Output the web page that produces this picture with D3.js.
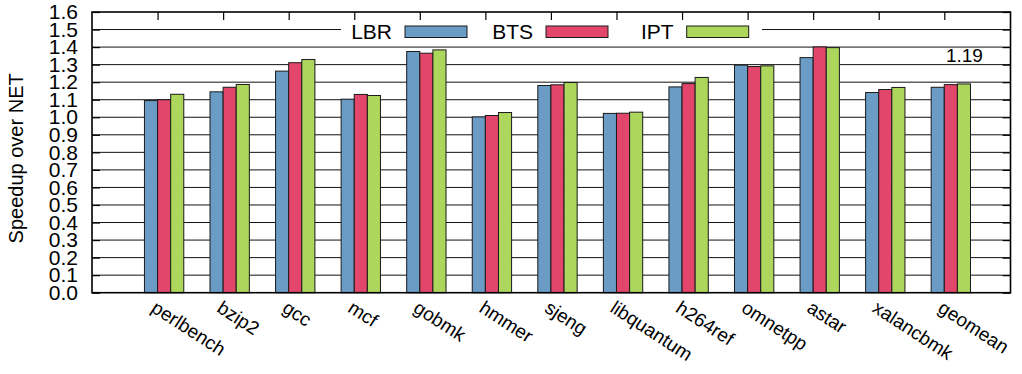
<!DOCTYPE html>
<html>
<head>
<meta charset="utf-8">
<script src="https://cdn.jsdelivr.net/npm/d3@7"></script>
<style>
  html, body { margin: 0; padding: 0; background: #fff; }
  svg { display: block; font-family: "Liberation Sans", Arial, Helvetica, sans-serif; }
</style>
</head>
<body>
<svg id="chart" width="1022" height="374"></svg>
<script>
// Benchmarks (SPEC CPU2006 integer) plus the geometric mean
const categories = ["perlbench", "bzip2", "gcc", "mcf", "gobmk", "hmmer", "sjeng",
                    "libquantum", "h264ref", "omnetpp", "astar", "xalancbmk", "geomean"];
const seriesNames = ["LBR", "BTS", "IPT"];
const lbr = [1.095, 1.145, 1.263, 1.103, 1.375, 1.002, 1.181, 1.022, 1.173, 1.297, 1.340, 1.141, 1.171];
const bts = [1.100, 1.171, 1.311, 1.130, 1.365, 1.010, 1.185, 1.023, 1.192, 1.289, 1.401, 1.158, 1.186];
const ipt = [1.131, 1.187, 1.329, 1.124, 1.384, 1.027, 1.198, 1.029, 1.227, 1.293, 1.397, 1.170, 1.190];
const yTicks = [0, 0.1, 0.2, 0.3, 0.4, 0.5, 0.6, 0.7, 0.8, 0.9, 1.0, 1.1, 1.2, 1.3, 1.4, 1.5, 1.6];
const colors = ["#6a9cc6", "#e2466a", "#add65c"];
const yLabel = "Speedup over NET";

const values = [lbr, bts, ipt];
const svg = d3.select("#chart");
const plotL = 92, plotR = 1010.5, plotT = 12, plotB = 292.7;

const x = d3.scaleLinear().domain([-1.1, 12.91]).range([plotL, plotR]);
const y = d3.scaleLinear().domain([0, 1.6]).range([plotB, plotT]);
const slot = x(1) - x(0);
const barW = slot / 5;                       // 3 bars + gap of 2 bar widths
const inner = d3.scaleBand().domain(seriesNames).range([-1.5 * barW, 1.5 * barW]).padding(0);
const tickPos = categories.map((c, i) => x.invert(x(i) - barW / 2));

// horizontal grid
svg.append("g")
  .selectAll("line")
  .data(yTicks.slice(1, -1))
  .join("line")
  .attr("x1", plotL).attr("x2", plotR)
  .attr("y1", d => y(d)).attr("y2", d => y(d))
  .attr("stroke", "#111").attr("stroke-width", 1);

// inward ticks on all four sides
const tickStyle = g => {
  g.select(".domain").remove();
  g.selectAll(".tick line").attr("stroke", "#000").attr("stroke-width", 1.2);
  g.selectAll(".tick text").attr("font-size", 21).attr("fill", "#000")
    .attr("font-family", "Liberation Sans, Arial, sans-serif");
};
svg.append("g").attr("transform", `translate(${plotL},0)`)
  .call(d3.axisLeft(y).tickValues(yTicks).tickFormat(d3.format(".1f")).tickSize(-8).tickPadding(14))
  .call(tickStyle);
svg.append("g").attr("transform", `translate(${plotR},0)`)
  .call(d3.axisRight(y).tickValues(yTicks).tickFormat("").tickSize(-8))
  .call(tickStyle);
svg.append("g").attr("transform", `translate(0,${plotT})`)
  .call(d3.axisTop(x).tickValues(tickPos).tickFormat("").tickSize(-8))
  .call(tickStyle);
svg.append("g").attr("transform", `translate(0,${plotB})`)
  .call(d3.axisBottom(x).tickValues(tickPos).tickFormat("").tickSize(-8))
  .call(tickStyle);

// bars
const groups = svg.append("g")
  .selectAll("g")
  .data(categories)
  .join("g")
  .attr("transform", (d, i) => `translate(${x(i)},0)`);
groups.selectAll("rect")
  .data((d, i) => seriesNames.map((s, k) => ({ s, k, v: values[k][i] })))
  .join("rect")
  .attr("x", d => inner(d.s))
  .attr("width", inner.bandwidth())
  .attr("y", d => y(d.v))
  .attr("height", d => y(0) - y(d.v))
  .attr("fill", d => colors[d.k])
  .attr("stroke", "#1a1a1a")
  .attr("stroke-width", 1);

// value label over the IPT geomean bar
const gi = categories.length - 1;
svg.append("text")
  .attr("x", x(gi) + inner("IPT") + inner.bandwidth() / 2 + 0.5)
  .attr("y", y(ipt[gi]) - 22)
  .attr("text-anchor", "middle")
  .attr("font-size", 19)
  .text(d3.format(".2f")(ipt[gi]));

// legend with an opaque background
const legend = svg.append("g");
legend.append("rect")
  .attr("x", 341).attr("y", 21).attr("width", 421).attr("height", 20)
  .attr("fill", "#fff");
const entryX = [405, 546, 686.7];
seriesNames.forEach((s, k) => {
  legend.append("rect")
    .attr("x", entryX[k]).attr("y", 26).attr("width", 62).attr("height", 11.5)
    .attr("fill", colors[k]).attr("stroke", "#1a1a1a").attr("stroke-width", 1);
  legend.append("text")
    .attr("x", entryX[k] - 13).attr("y", 39)
    .attr("text-anchor", "end").attr("font-size", 21)
    .text(s);
});

// frame
svg.append("rect")
  .attr("x", plotL).attr("y", plotT)
  .attr("width", plotR - plotL).attr("height", plotB - plotT)
  .attr("fill", "none").attr("stroke", "#000").attr("stroke-width", 1.6);

// category labels, slanted
svg.append("g")
  .selectAll("text")
  .data(categories)
  .join("text")
  .attr("transform", (d, i) => `translate(${x(i) - 14},311) rotate(33)`)
  .attr("font-size", 19)
  .text(d => d);

// y axis title
svg.append("text")
  .attr("transform", `translate(23,${(plotT + plotB) / 2 + 6}) rotate(-90)`)
  .attr("text-anchor", "middle")
  .attr("font-size", 20)
  .text(yLabel);
</script>
</body>
</html>
